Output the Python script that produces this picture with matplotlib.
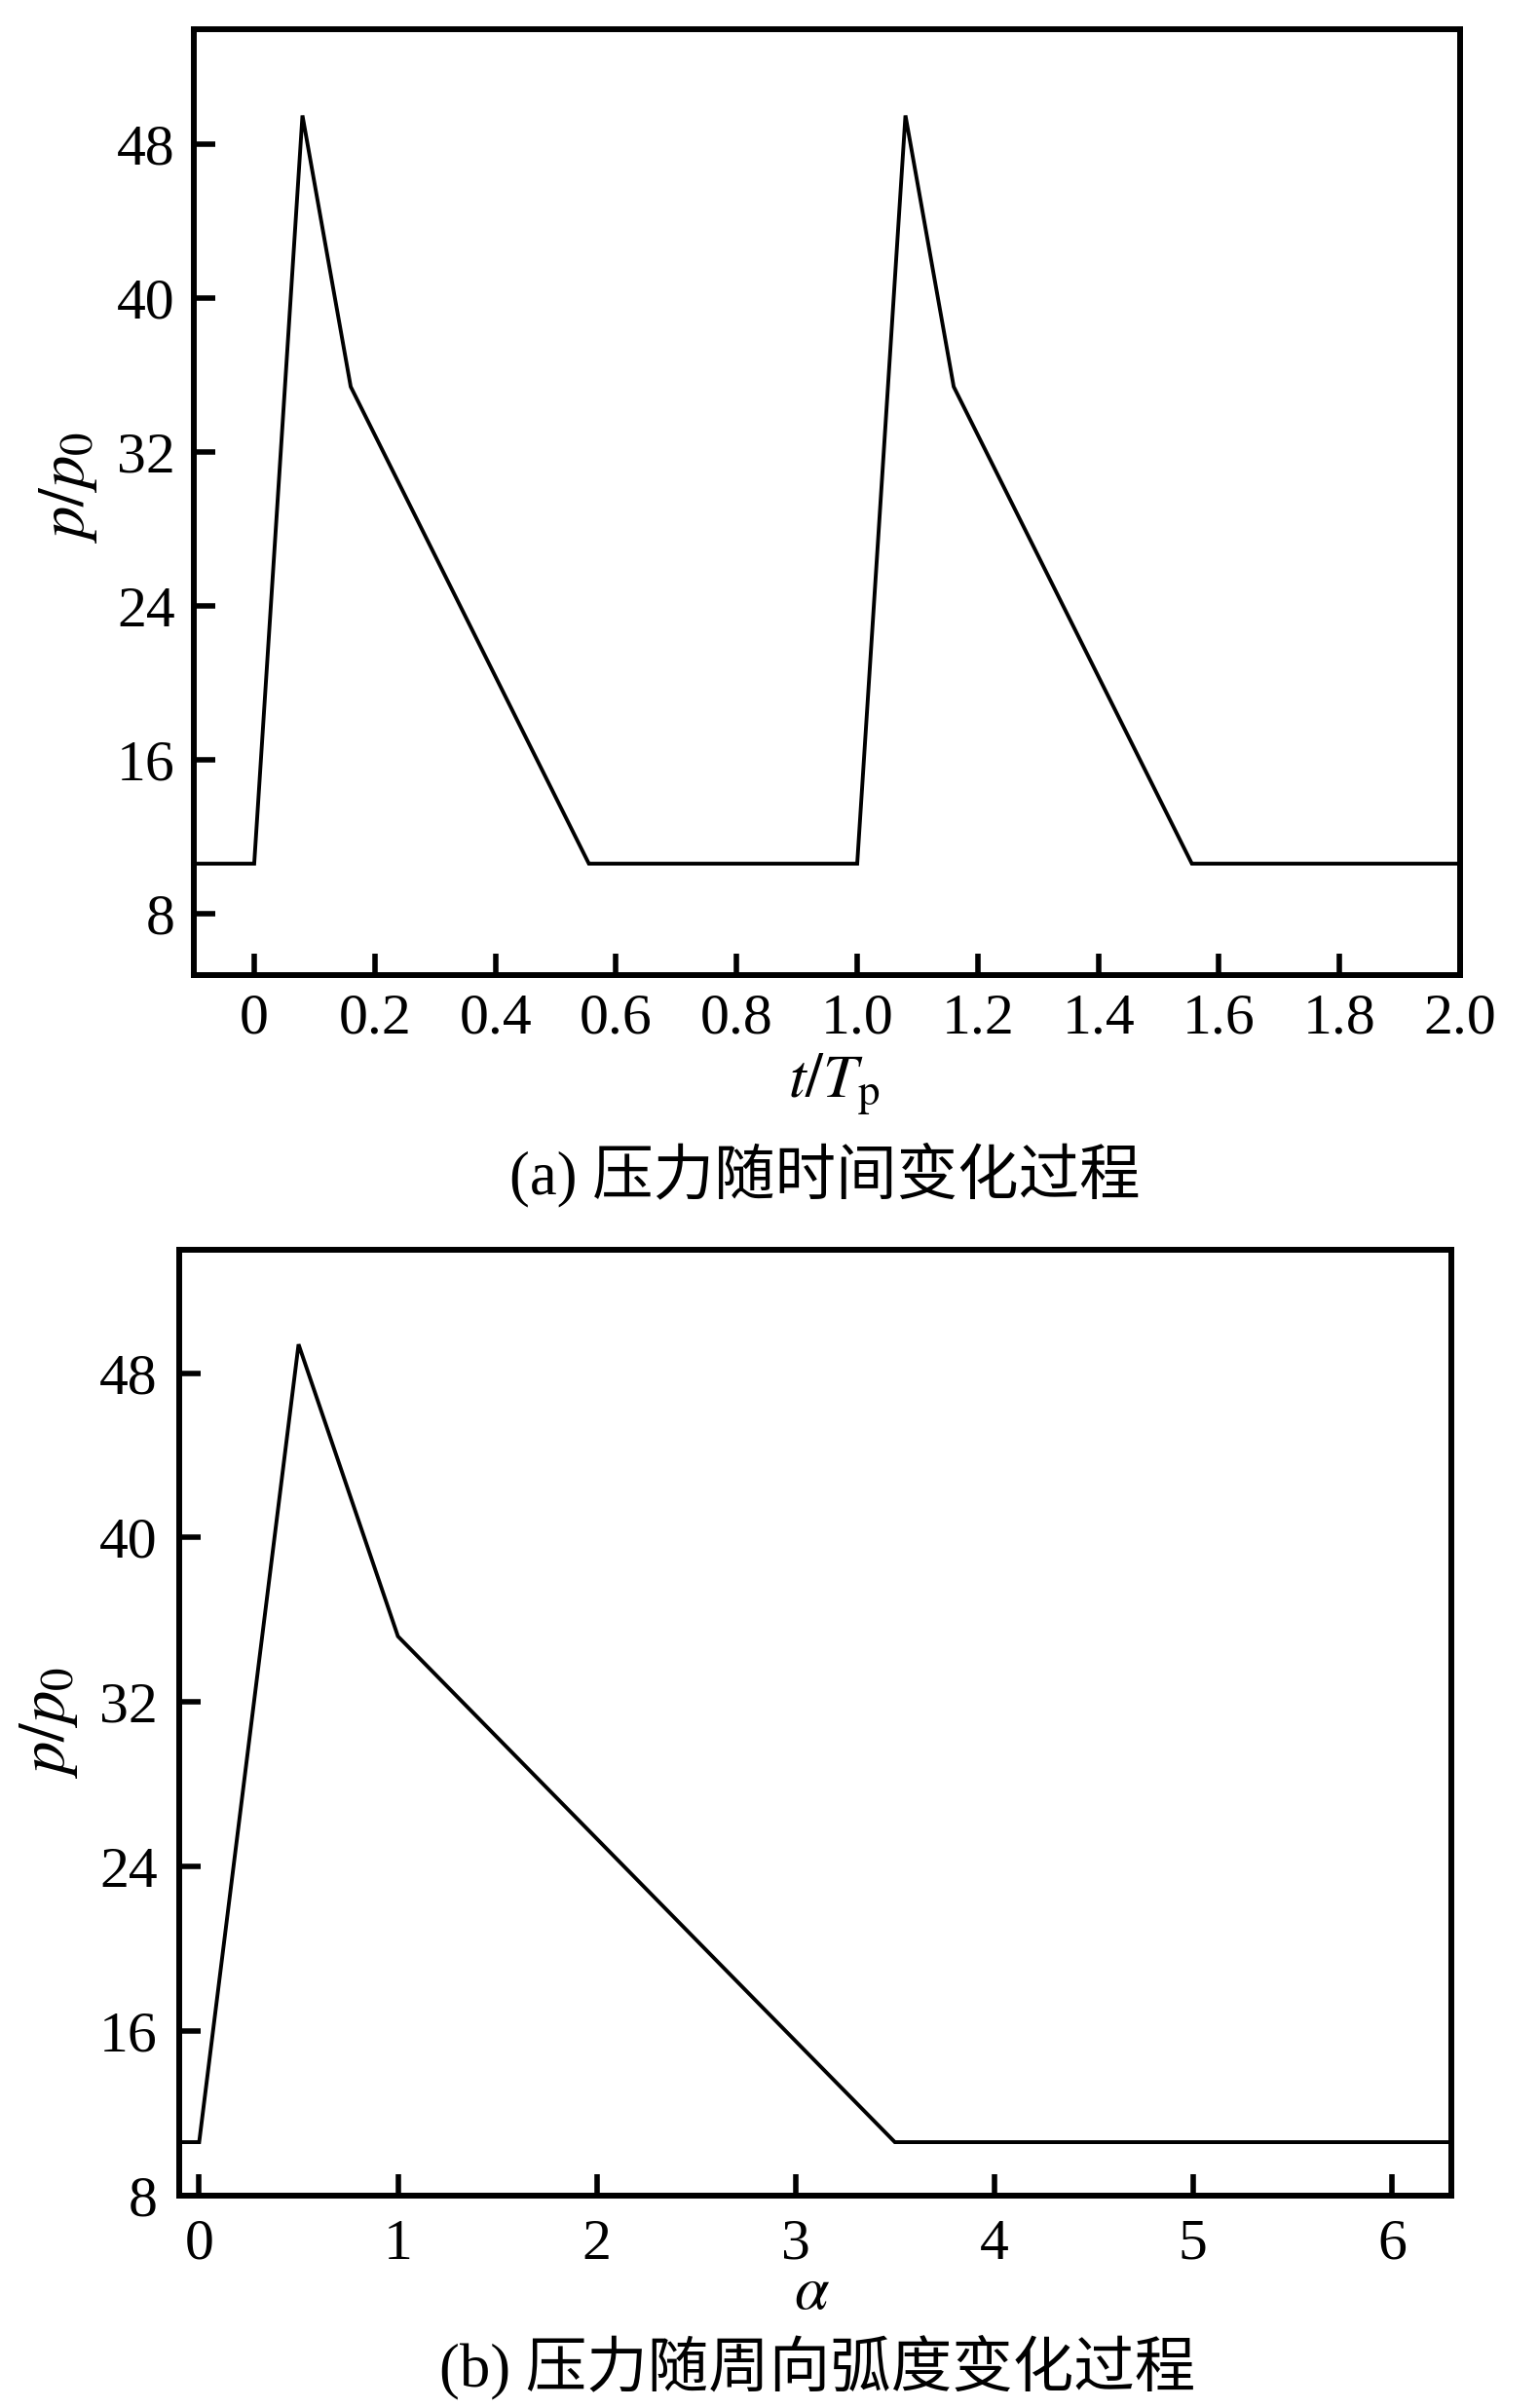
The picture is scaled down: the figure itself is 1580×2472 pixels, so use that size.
import matplotlib
matplotlib.use('Agg')
import matplotlib.pyplot as plt

plt.rcParams['font.family'] = ['Liberation Serif', 'Noto Sans CJK SC']
plt.rcParams['mathtext.fontset'] = 'stix'

# (a) presion frente a tiempo
t_tp = [-0.1, 0.0, 0.08, 0.16, 0.555, 1.0, 1.08, 1.16, 1.555, 2.0]
p_t = [10.6, 10.6, 49.5, 35.4, 10.6, 10.6, 49.5, 35.4, 10.6, 10.6]

# (b) presion frente a angulo
alpha = [-0.1, 0.0, 0.5, 1.0, 3.5, 6.3]
p_alpha = [10.6, 10.6, 49.4, 35.2, 10.6, 10.6]

y_ticks = [8, 16, 24, 32, 40, 48]
t_ticks = [0, 0.2, 0.4, 0.6, 0.8, 1.0, 1.2, 1.4, 1.6, 1.8, 2.0]
t_labels = ['0', '0.2', '0.4', '0.6', '0.8', '1.0', '1.2', '1.4', '1.6', '1.8', '2.0']
alpha_ticks = [0, 1, 2, 3, 4, 5, 6]

caption_a = '(a) 压力随时间变化过程'
caption_b = '(b) 压力随周向弧度变化过程'


def estilo(ax, pad_x, pad_y):
    for s in ax.spines.values():
        s.set_linewidth(4.3)
    ax.tick_params(axis='both', direction='in', length=16, width=4,
                   labelsize=43, top=False, right=False)
    ax.tick_params(axis='x', pad=pad_x)
    ax.tick_params(axis='y', pad=pad_y)
    ax.set_yticks(y_ticks)


fig = plt.figure(figsize=(15.8, 24.72), dpi=100)

ax1 = fig.add_axes([0.126, 0.595, 0.8228, 0.393])
ax1.plot(t_tp, p_t, color='black', linewidth=2.8, solid_joinstyle='miter')
ax1.set_xlim(-0.1, 2.0)
ax1.set_ylim(4.8, 54)
estilo(ax1, 13, 14)
ax1.set_xticks(t_ticks)
ax1.set_xticklabels(t_labels)
ax1.set_xlabel(r'$t/T_{\mathrm{p}}$', fontsize=46, va='baseline')
ax1.xaxis.set_label_coords(0.505, -0.1295)
ax1.set_ylabel(r'$p/p_0$', fontsize=48)
ax1.yaxis.set_label_coords(-0.075, 0.515)

ax2 = fig.add_axes([0.1165, 0.0882, 0.8266, 0.3928])
ax2.plot(alpha, p_alpha, color='black', linewidth=2.8, solid_joinstyle='miter')
ax2.set_xlim(-0.1, 6.3)
ax2.set_ylim(8, 54)
estilo(ax2, 17, 16)
ax2.set_xticks(alpha_ticks)
ax2.set_xlabel(r'$\alpha$', fontsize=46, va='baseline')
ax2.xaxis.set_label_coords(0.497, -0.120)
ax2.set_ylabel(r'$p/p_0$', fontsize=48)
ax2.yaxis.set_label_coords(-0.078, 0.50)

fig.text(0.536, 0.512, caption_a, fontsize=45, ha='center', va='center')
fig.text(0.531, 0.017, caption_b, fontsize=45, ha='center', va='center')

fig.savefig('out.png', dpi=100)
